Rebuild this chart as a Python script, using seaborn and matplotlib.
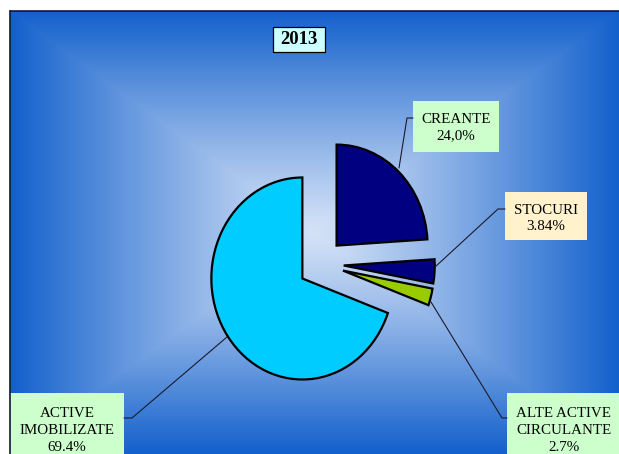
import numpy as np
import matplotlib
matplotlib.use("Agg")
import matplotlib.pyplot as plt
import seaborn as sns
from matplotlib.transforms import Affine2D
from matplotlib.patches import Rectangle
from matplotlib.lines import Line2D

# ---- data ----
title = "2013"
categories = ["CREANTE", "STOCURI", "ALTE ACTIVE\nCIRCULANTE", "ACTIVE\nIMOBILIZATE"]
values = [24.0, 3.84, 2.7, 69.4]
value_labels = ["24,0%", "3.84%", "2.7%", "69.4%"]

slice_colors = ["#000080", "#000080", "#99cc00", "#00ccff"]
box_colors = ["#ccffcc", "#fff2cc", "#ccffcc", "#ccffcc"]

sns.set_theme(style="white")
plt.rcParams["font.family"] = ["Liberation Serif", "DejaVu Serif"]

W, H = 619, 454
fig = plt.figure(figsize=(W / 100, H / 100), dpi=100)
fig.patch.set_facecolor("white")
pix = Affine2D().scale(1 / W, -1 / H).translate(0, 1) + fig.transFigure

# ---- background gradient panel ----
fx0, fy0 = 10, 11
bg = fig.add_axes([fx0 / W, 0, (W - fx0) / W, (H - fy0) / H])
bg.set_axis_off()
nx, ny = W - fx0, H - fy0
xx, yy = np.meshgrid(np.linspace(-1, 1, nx), np.linspace(-1, 1, ny))
t = np.maximum(np.abs(xx), np.abs(yy))
t = np.clip(t, 0, 1) ** 1.15
c_center = np.array([212, 226, 247]) / 255
c_edge = np.array([18, 96, 204]) / 255
img = c_center[None, None, :] * (1 - t[..., None]) + c_edge[None, None, :] * t[..., None]
bg.imshow(img, aspect="auto", extent=[0, 1, 0, 1], interpolation="bilinear")
bg.set_xlim(0, 1)
bg.set_ylim(0, 1)
fig.add_artist(Line2D([fx0, W], [fy0, fy0], transform=pix, color="#10183a", lw=1.2))
fig.add_artist(Line2D([fx0, fx0], [fy0, H], transform=pix, color="#10183a", lw=1.2))

# ---- pie ----
cx, cy, rx, ry = 321, 264, 91, 101
ax = fig.add_axes([0, 0, 1, 1])
ax.patch.set_alpha(0)
wedges, _ = ax.pie(
    values,
    colors=slice_colors,
    startangle=90,
    counterclock=False,
    explode=[0.25, 0.25, 0.25, 0.25],
    wedgeprops=dict(edgecolor="black", linewidth=1.6),
)
ax.set_aspect("auto")
ax.set_xlim((0 - cx) / rx, (W - cx) / rx)
ax.set_ylim((cy - H) / ry, (cy - 0) / ry)
ax.set_axis_off()

# ---- title ----
fig.add_artist(Rectangle((273, 27), 52, 25, transform=pix, facecolor="#ccffff",
                         edgecolor="black", lw=0.9))
fig.text(299, 40, title, transform=pix, ha="center", va="center",
         fontsize=13.5, fontweight="bold", color="black")

# ---- labels ----
boxes = [(413, 101, 86, 51), (505, 192, 82, 48), (507, 393, 114, 70), (10, 393, 114, 70)]
leaders = [
    [(413, 118), (407, 118), (399, 168)],
    [(505, 209), (498, 209), (435, 267)],
    [(507, 418), (502, 418), (431, 302)],
    [(124, 418), (132, 418), (227, 337)],
]
for cat, lab, col, (bx, by, bw, bh), pts in zip(categories, value_labels, box_colors, boxes, leaders):
    fig.add_artist(Rectangle((bx, by), bw, bh, transform=pix, facecolor=col,
                             edgecolor="none"))
    xs, ys = zip(*pts)
    fig.add_artist(Line2D(xs, ys, transform=pix, color="#1a1a2a", lw=0.8))
    txt = cat + "\n" + lab
    nlines = txt.count("\n") + 1
    tx = bx + bw / 2
    ty = by + 6 + nlines * 20.5 / 2 + (1 if nlines == 3 else 0)
    fig.text(tx, ty, txt, transform=pix, ha="center", va="center",
             fontsize=10.8, linespacing=1.38, color="black")

fig.savefig("out.png", dpi=100)
